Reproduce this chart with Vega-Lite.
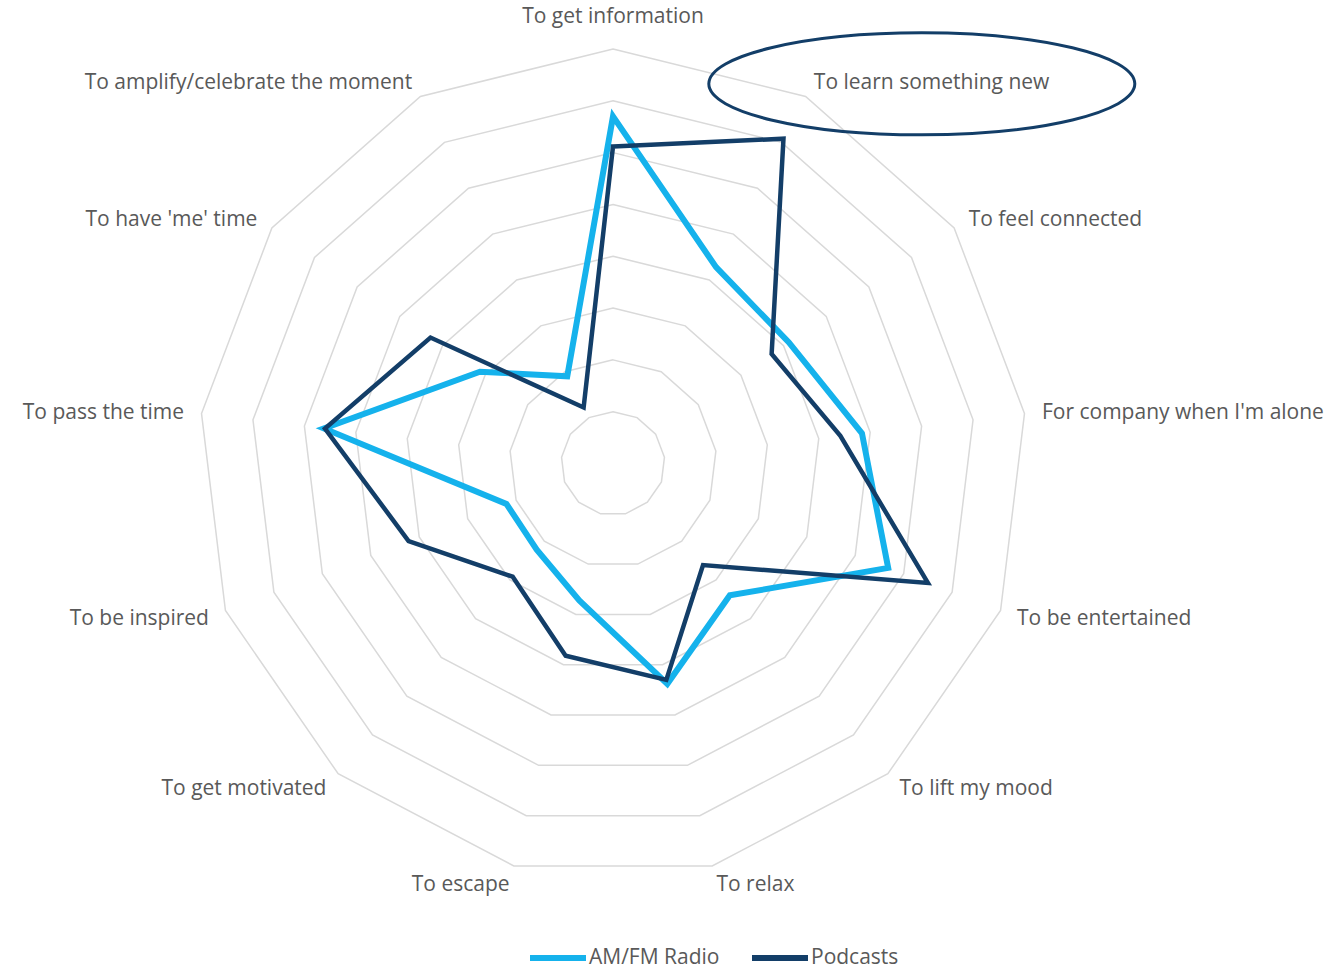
{
  "$schema": "https://vega.github.io/schema/vega-lite/v6.json",
  "width": 1327,
  "height": 967,
  "autosize": {"type": "none"},
  "padding": 0,
  "background": "white",
  "config": {"view": {"stroke": null}, "legend": {"symbolStrokeWidth": 6}},
  "datasets": {
    "scores": [
      {"idx": 0, "reason": "To get information", "series": "AM/FM Radio", "value": 33.5},
      {"idx": 1, "reason": "To learn something new", "series": "AM/FM Radio", "value": 21.4},
      {"idx": 2, "reason": "To feel connected", "series": "AM/FM Radio", "value": 20.6},
      {"idx": 3, "reason": "For company when I'm alone", "series": "AM/FM Radio", "value": 24.2},
      {"idx": 4, "reason": "To be entertained", "series": "AM/FM Radio", "value": 28.4},
      {"idx": 5, "reason": "To lift my mood", "series": "AM/FM Radio", "value": 17.0},
      {"idx": 6, "reason": "To relax", "series": "AM/FM Radio", "value": 21.9},
      {"idx": 7, "reason": "To escape", "series": "AM/FM Radio", "value": 13.6},
      {"idx": 8, "reason": "To get motivated", "series": "AM/FM Radio", "value": 11.1},
      {"idx": 9, "reason": "To be inspired", "series": "AM/FM Radio", "value": 11.0},
      {"idx": 10, "reason": "To pass the time", "series": "AM/FM Radio", "value": 28.1},
      {"idx": 11, "reason": "To have 'me' time", "series": "AM/FM Radio", "value": 15.6},
      {"idx": 12, "reason": "To amplify/celebrate the moment", "series": "AM/FM Radio", "value": 9.5},
      {"idx": 0, "reason": "To get information", "series": "Podcasts", "value": 30.6},
      {"idx": 1, "reason": "To learn something new", "series": "Podcasts", "value": 35.4},
      {"idx": 2, "reason": "To feel connected", "series": "Podcasts", "value": 18.6},
      {"idx": 3, "reason": "For company when I'm alone", "series": "Podcasts", "value": 22.1},
      {"idx": 4, "reason": "To be entertained", "series": "Podcasts", "value": 32.5},
      {"idx": 5, "reason": "To lift my mood", "series": "Podcasts", "value": 13.1},
      {"idx": 6, "reason": "To relax", "series": "Podcasts", "value": 21.5},
      {"idx": 7, "reason": "To escape", "series": "Podcasts", "value": 19.1},
      {"idx": 8, "reason": "To get motivated", "series": "Podcasts", "value": 14.6},
      {"idx": 9, "reason": "To be inspired", "series": "Podcasts", "value": 21.1},
      {"idx": 10, "reason": "To pass the time", "series": "Podcasts", "value": 28.0},
      {"idx": 11, "reason": "To have 'me' time", "series": "Podcasts", "value": 21.4},
      {"idx": 12, "reason": "To amplify/celebrate the moment", "series": "Podcasts", "value": 6.1}
    ],
    "rings": [
      {"ring": 5}, {"ring": 10}, {"ring": 15}, {"ring": 20},
      {"ring": 25}, {"ring": 30}, {"ring": 35}, {"ring": 40}
    ]
  },
  "layer": [
    {
      "data": {"name": "rings"},
      "mark": {
        "type": "point",
        "shape": "M 0 -1 L 0.4647 -0.8855 L 0.823 -0.5681 L 0.9927 -0.1205 L 0.935 0.3546 L 0.6631 0.7485 L 0.2393 0.9709 L -0.2393 0.9709 L -0.6631 0.7485 L -0.935 0.3546 L -0.9927 -0.1205 L -0.823 -0.5681 L -0.4647 -0.8855 Z",
        "filled": false,
        "stroke": "#d9d9d9",
        "strokeWidth": 1.5,
        "opacity": 1
      },
      "encoding": {
        "x": {"datum": 0, "type": "quantitative", "scale": {"domain": [-59.156, 68.902], "nice": false, "zero": false}, "axis": null},
        "y": {"datum": 0, "type": "quantitative", "scale": {"domain": [-48.589, 44.729], "nice": false, "zero": false}, "axis": null},
        "size": {"field": "ring", "type": "quantitative", "scale": {"type": "pow", "exponent": 2, "domain": [0, 40], "range": [0, 687241]}, "legend": null}
      }
    },
    {
      "data": {"name": "scores"},
      "transform": [
        {"filter": "datum.series === 'AM/FM Radio'"},
        {"calculate": "datum.idx * 2 * PI / 13", "as": "ang"},
        {"calculate": "datum.value * sin(datum.ang)", "as": "px"},
        {"calculate": "datum.value * cos(datum.ang)", "as": "py"}
      ],
      "mark": {"type": "line", "interpolate": "linear-closed", "strokeWidth": 6, "strokeJoin": "miter"},
      "encoding": {
        "x": {"field": "px", "type": "quantitative", "scale": {"domain": [-59.156, 68.902], "nice": false, "zero": false}, "axis": null},
        "y": {"field": "py", "type": "quantitative", "scale": {"domain": [-48.589, 44.729], "nice": false, "zero": false}, "axis": null},
        "order": {"field": "idx", "type": "quantitative"},
        "color": {
          "field": "series", "type": "nominal",
          "scale": {"domain": ["AM/FM Radio", "Podcasts"], "range": ["#15B2EC", "#133E68"]},
          "legend": {
            "title": null, "orient": "none", "legendX": 527, "legendY": 927, "direction": "horizontal",
            "symbolType": "stroke", "symbolSize": 3136, "symbolStrokeWidth": 6,
            "labelFont": "Open Sans", "labelFontSize": 21, "labelColor": "#595959", "labelOffset": 0,
            "columnPadding": 20
          }
        }
      }
    },
    {
      "data": {"name": "scores"},
      "transform": [
        {"filter": "datum.series === 'Podcasts'"},
        {"calculate": "datum.idx * 2 * PI / 13", "as": "ang"},
        {"calculate": "datum.value * sin(datum.ang)", "as": "px"},
        {"calculate": "datum.value * cos(datum.ang)", "as": "py"}
      ],
      "mark": {"type": "line", "interpolate": "linear-closed", "strokeWidth": 4.5, "strokeJoin": "miter"},
      "encoding": {
        "x": {"field": "px", "type": "quantitative", "scale": {"domain": [-59.156, 68.902], "nice": false, "zero": false}, "axis": null},
        "y": {"field": "py", "type": "quantitative", "scale": {"domain": [-48.589, 44.729], "nice": false, "zero": false}, "axis": null},
        "order": {"field": "idx", "type": "quantitative"},
        "color": {"field": "series", "type": "nominal"}
      }
    },
    {
      "data": {"name": "scores"},
      "transform": [
        {"filter": "datum.series === 'AM/FM Radio' && datum.idx === 0"},
        {"calculate": "datum.idx * 2 * PI / 13", "as": "ang"},
        {"calculate": "41.7 * sin(datum.ang)", "as": "lx"},
        {"calculate": "41.7 * cos(datum.ang)", "as": "ly"}
      ],
      "mark": {"type": "text", "align": "center", "baseline": "middle", "dy": -14, "font": "Open Sans", "fontSize": 21, "fill": "#595959"},
      "encoding": {
        "x": {"field": "lx", "type": "quantitative", "scale": {"domain": [-59.156, 68.902], "nice": false, "zero": false}, "axis": null},
        "y": {"field": "ly", "type": "quantitative", "scale": {"domain": [-48.589, 44.729], "nice": false, "zero": false}, "axis": null},
        "text": {"field": "reason"}
      }
    },
    {
      "data": {"name": "scores"},
      "transform": [
        {"filter": "datum.series === 'AM/FM Radio' && datum.idx >= 1 && datum.idx <= 6"},
        {"calculate": "datum.idx * 2 * PI / 13", "as": "ang"},
        {"calculate": "41.7 * sin(datum.ang)", "as": "lx"},
        {"calculate": "41.7 * cos(datum.ang)", "as": "ly"}
      ],
      "mark": {"type": "text", "align": "left", "baseline": "middle", "dy": 2, "font": "Open Sans", "fontSize": 21, "fill": "#595959"},
      "encoding": {
        "x": {"field": "lx", "type": "quantitative", "scale": {"domain": [-59.156, 68.902], "nice": false, "zero": false}, "axis": null},
        "y": {"field": "ly", "type": "quantitative", "scale": {"domain": [-48.589, 44.729], "nice": false, "zero": false}, "axis": null},
        "text": {"field": "reason"}
      }
    },
    {
      "data": {"name": "scores"},
      "transform": [
        {"filter": "datum.series === 'AM/FM Radio' && datum.idx >= 7"},
        {"calculate": "datum.idx * 2 * PI / 13", "as": "ang"},
        {"calculate": "41.7 * sin(datum.ang)", "as": "lx"},
        {"calculate": "41.7 * cos(datum.ang)", "as": "ly"}
      ],
      "mark": {"type": "text", "align": "right", "baseline": "middle", "dy": 2, "font": "Open Sans", "fontSize": 21, "fill": "#595959"},
      "encoding": {
        "x": {"field": "lx", "type": "quantitative", "scale": {"domain": [-59.156, 68.902], "nice": false, "zero": false}, "axis": null},
        "y": {"field": "ly", "type": "quantitative", "scale": {"domain": [-48.589, 44.729], "nice": false, "zero": false}, "axis": null},
        "text": {"field": "reason"}
      }
    },
    {
      "data": {"name": "scores"},
      "transform": [
        {"filter": "datum.series === 'AM/FM Radio' && datum.idx === 1"},
        {"calculate": "datum.idx * 2 * PI / 13", "as": "ang"},
        {"calculate": "41.7 * sin(datum.ang)", "as": "lx"},
        {"calculate": "41.7 * cos(datum.ang)", "as": "ly"}
      ],
      "mark": {
        "type": "point",
        "shape": "M -0.493 0.014 C -0.493 -0.1182 -0.0453 -0.2254 0.507 -0.2254 C 1.0593 -0.2254 1.507 -0.1182 1.507 0.014 C 1.507 0.1462 1.0593 0.2534 0.507 0.2534 C -0.0453 0.2534 -0.493 0.1462 -0.493 0.014 Z",
        "size": 181476,
        "filled": false,
        "stroke": "#133E68",
        "strokeWidth": 3,
        "opacity": 1
      },
      "encoding": {
        "x": {"field": "lx", "type": "quantitative", "scale": {"domain": [-59.156, 68.902], "nice": false, "zero": false}, "axis": null},
        "y": {"field": "ly", "type": "quantitative", "scale": {"domain": [-48.589, 44.729], "nice": false, "zero": false}, "axis": null}
      }
    }
  ]
}
